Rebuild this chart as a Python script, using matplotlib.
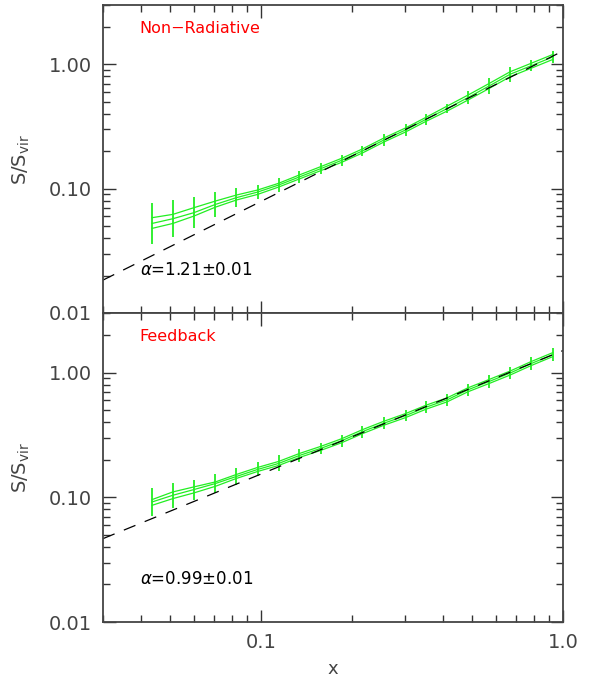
import numpy as np
import matplotlib
matplotlib.use("Agg")
import matplotlib.pyplot as plt
from matplotlib.ticker import FixedLocator, LogLocator, NullFormatter, FixedFormatter

# radial bins (shared by both panels)
x_bins = [0.0436, 0.0511, 0.0600, 0.0707, 0.0829, 0.0975, 0.1144, 0.1338, 0.1578, 0.1850,
          0.2166, 0.2552, 0.3010, 0.3522, 0.4133, 0.4846, 0.5698, 0.6684, 0.7822, 0.9247]

# Non-radiative run: median profile, upper / lower curves, error bar half-size (dex)
nr_mid = [0.0525, 0.0573, 0.0641, 0.0747, 0.0846, 0.0939, 0.1069, 0.1240, 0.1449, 0.1690,
          0.2008, 0.2461, 0.2963, 0.3614, 0.4405, 0.5402, 0.6702, 0.8323, 0.9707, 1.1450]
nr_hi = [0.0584, 0.0621, 0.0703, 0.0795, 0.0888, 0.0975, 0.1104, 0.1287, 0.1504, 0.1754,
         0.2084, 0.2555, 0.3076, 0.3751, 0.4612, 0.5656, 0.7017, 0.8715, 1.0163, 1.1990]
nr_lo = [0.0479, 0.0525, 0.0602, 0.0710, 0.0810, 0.0899, 0.1030, 0.1195, 0.1396, 0.1628,
         0.1934, 0.2371, 0.2855, 0.3482, 0.4207, 0.5159, 0.6401, 0.7949, 0.9271, 1.0935]
nr_err = [0.163, 0.147, 0.127, 0.103, 0.074, 0.058, 0.054, 0.047, 0.044, 0.044,
          0.044, 0.046, 0.046, 0.046, 0.036, 0.050, 0.067, 0.060, 0.044, 0.050]
nr_fit = (1.28, 1.21)   # amplitude, slope

# Feedback run
fb_mid = [0.0917, 0.1038, 0.1153, 0.1289, 0.1468, 0.1671, 0.1867, 0.2159, 0.2466, 0.2840,
          0.3355, 0.3921, 0.4514, 0.5275, 0.6040, 0.7270, 0.8480, 0.9910, 1.1770, 1.3910]
fb_hi = [0.0958, 0.1104, 0.1211, 0.1328, 0.1523, 0.1734, 0.1937, 0.2240, 0.2559, 0.2947,
         0.3481, 0.4068, 0.4684, 0.5473, 0.6270, 0.7540, 0.8800, 1.0280, 1.2210, 1.4430]
fb_lo = [0.0862, 0.0976, 0.1084, 0.1225, 0.1415, 0.1610, 0.1799, 0.2081, 0.2377, 0.2737,
         0.3233, 0.3779, 0.4350, 0.5084, 0.5820, 0.7010, 0.8170, 0.9550, 1.1340, 1.3410]
fb_err = [0.114, 0.100, 0.080, 0.077, 0.067, 0.056, 0.064, 0.050, 0.047, 0.047,
          0.047, 0.047, 0.047, 0.047, 0.050, 0.050, 0.050, 0.050, 0.050, 0.050]
fb_fit = (1.50, 0.99)

panels = [
    ("Non\u2212Radiative", r"$\alpha$=1.21$\pm$0.01", nr_mid, nr_hi, nr_lo, nr_err, nr_fit),
    ("Feedback", r"$\alpha$=0.99$\pm$0.01", fb_mid, fb_hi, fb_lo, fb_err, fb_fit),
]

GREEN = "#22ee22"
TXT = "#444444"
plt.rcParams["font.family"] = ["DejaVu Sans"]
plt.rcParams["mathtext.fontset"] = "dejavusans"

fig = plt.figure(figsize=(5.9, 6.81), dpi=100)
ax_top = fig.add_axes([0.1746, 0.5404, 0.7797, 0.4523])
ax_bot = fig.add_axes([0.1746, 0.0866, 0.7797, 0.4538])

xline = np.array([0.03, 1.0])
for ax, (name, alpha_txt, mid, hi, lo, err, fit) in zip([ax_top, ax_bot], panels):
    xb = np.array(x_bins)
    mid = np.array(mid)
    err = np.array(err)
    ax.plot(xb, hi, color=GREEN, lw=0.9)
    ax.plot(xb, mid, color=GREEN, lw=0.9)
    ax.plot(xb, lo, color=GREEN, lw=0.9)
    yerr = [mid - mid / 10**err, mid * 10**err - mid]
    ax.errorbar(xb, mid, yerr=yerr, fmt="none", ecolor=GREEN, elinewidth=1.3, capsize=0)
    amp, slope = fit
    ax.plot(xline, amp * xline**slope, color="black", lw=0.9, ls=(0, (10, 8)))

    ax.set_xscale("log")
    ax.set_yscale("log")
    ax.set_xlim(0.03, 1.0)
    ax.set_ylim(0.01, 3.0)
    ax.text(0.08, 0.925, name, transform=ax.transAxes, color="red", fontsize=11.5,
            va="center", ha="left")
    ax.text(0.08, 0.14, alpha_txt, transform=ax.transAxes, color="black", fontsize=12,
            va="center", ha="left")

    ax.yaxis.set_major_locator(FixedLocator([0.01, 0.1, 1.0]))
    ax.yaxis.set_major_formatter(FixedFormatter(["0.01", "0.10", "1.00"]))
    ax.yaxis.set_minor_locator(LogLocator(base=10, subs=np.arange(2, 10)))
    ax.yaxis.set_minor_formatter(NullFormatter())
    ax.xaxis.set_major_locator(FixedLocator([0.1, 1.0]))
    ax.xaxis.set_major_formatter(FixedFormatter(["0.1", "1.0"]))
    ax.xaxis.set_minor_locator(LogLocator(base=10, subs=np.arange(2, 10)))
    ax.xaxis.set_minor_formatter(NullFormatter())
    ax.tick_params(which="both", direction="in", top=True, right=True, color="#333333",
                   width=1.0, labelsize=14, labelcolor=TXT)
    ax.tick_params(which="major", length=9, pad=8)
    ax.tick_params(which="minor", length=5)
    for sp in ax.spines.values():
        sp.set_linewidth(1.3)
        sp.set_color("#444444")
    ax.set_ylabel(r"S/S$_{\rm vir}$", fontsize=14, color=TXT, labelpad=12)

ax_top.tick_params(axis="x", labelbottom=False)
ax_bot.set_xlabel("x", fontsize=13, color=TXT, labelpad=6)

fig.savefig("out.png", dpi=100)
